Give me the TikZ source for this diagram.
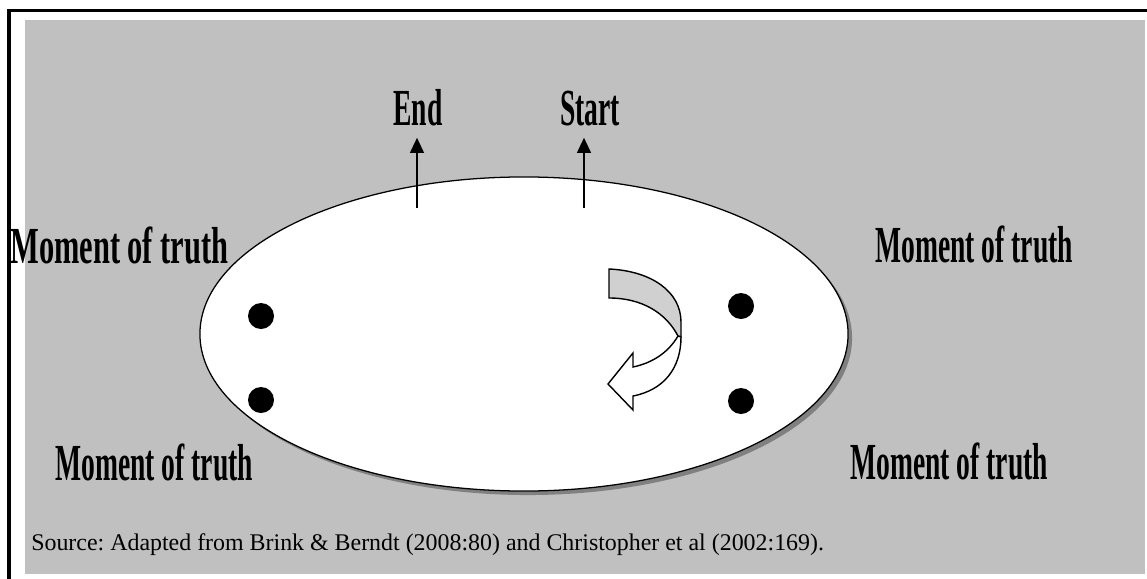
\documentclass[tikz,border=0pt]{standalone}
\usepackage{fontspec}
\setmainfont{Liberation Serif}
\usetikzlibrary{shapes.geometric, shadows, arrows.meta, positioning}
\definecolor{panel}{HTML}{C0C0C0}
\definecolor{backface}{HTML}{D0D0D0}
\newcommand{\narrow}[2][0.53]{\scalebox{#1}[1]{#2}}
\tikzstyle{title} = [inner sep=0, anchor=base west, font=\fontsize{37}{37}\selectfont\bfseries]
\tikzstyle{dot} = [circle, fill=black, minimum size=0.65cm, inner sep=0]
\tikzstyle{oval} = [ellipse, draw, line width=0.9pt, fill=white, minimum width=16.2cm, minimum height=7.85cm, drop shadow={shadow xshift=0.1cm, shadow yshift=-0.1cm, fill=black!50, opacity=1}]
\tikzstyle{line} = [draw, -{Triangle[length=0.38cm, width=0.35cm]}, line width=1.1pt, shorten >=0.3cm]
\tikzstyle{turn} = [draw, line width=1pt, line join=miter]
\frenchspacing

\begin{document}
\begin{tikzpicture}[x=0.025cm, y=-0.025cm]
  \useasboundingbox (0,0) rectangle (1147,579);
  \fill [panel] (25,20) rectangle (1145,574);
  \draw [line width=0.075cm] (9,579) -- (9,10) -- (1147,10);

  \node (cycle) [oval] at (524,334) {};

  \node (d1) [dot] at (261,316) {};
  \node (d2) [dot] at (261,400) {};
  \node (d3) [dot] at (741,306) {};
  \node (d4) [dot] at (741,401) {};

  \node (end) [title] at (393,125) {\narrow{End}};
  \node (start) [title] at (560,125) {\narrow{Start}};
  \coordinate (efoot) at (417,208);
  \coordinate (sfoot) at (584,208);
  \draw [line] (efoot) -- (efoot |- end.south);
  \draw [line] (sfoot) -- (sfoot |- start.south);

  \node (mtl) [title] at (10,263) {\narrow[0.585]{Moment of truth}};
  \node (mtr) [title] at (875,262) {\narrow{Moment of truth}};
  \node (mbl) [title] at (55,480) {\narrow{Moment of truth}};
  \node (mbr) [title] at (850,479) {\narrow{Moment of truth}};

  \filldraw [turn, fill=backface] (609,269) .. controls (652,271) and (681,292) .. (681,322)
    -- (681,337) -- (678,336) .. controls (666,313) and (642,298) .. (609,298) -- cycle;
  \filldraw [turn, fill=white] (678,336) .. controls (668,353) and (652,363) .. (633,367)
    -- (633,353) -- (608,384) -- (633,410) -- (633,396)
    .. controls (664,390) and (681,368) .. (681,337) -- cycle;

  \node (source) [inner sep=0, anchor=base west, font=\fontsize{17}{17}\selectfont] at (31,550)
    {Source: Adapted from Brink \& Berndt (2008:80) and Christopher et al (2002:169).};
\end{tikzpicture}
\end{document}
